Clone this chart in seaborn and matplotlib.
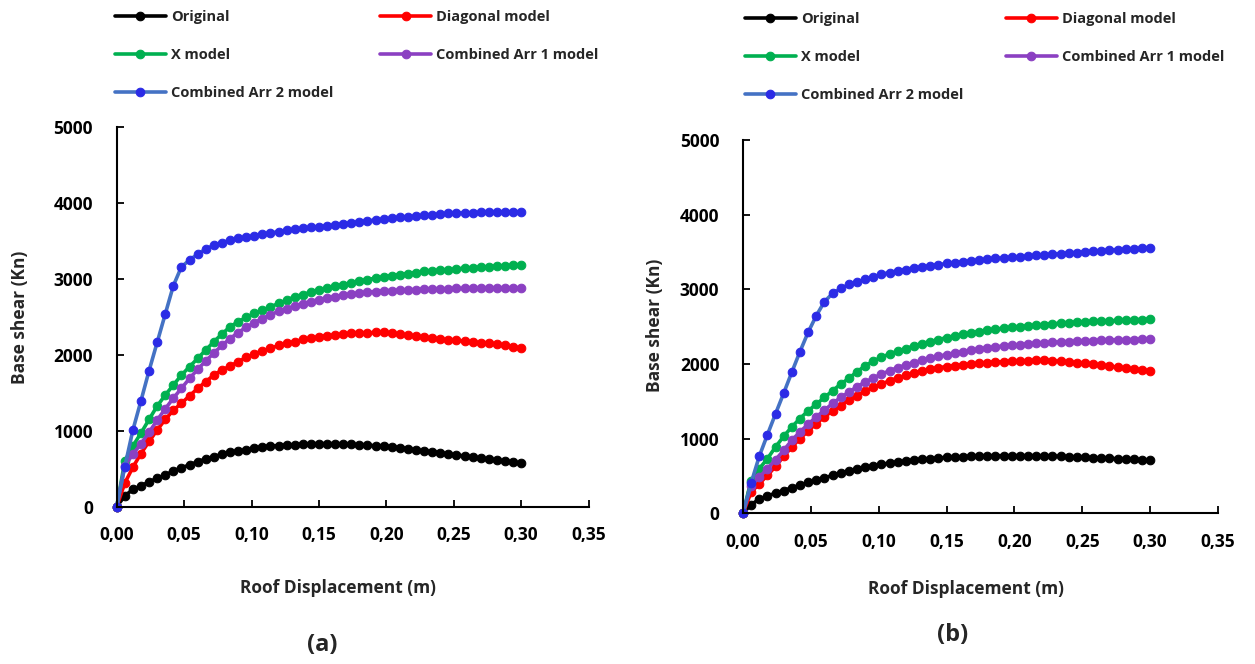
import matplotlib
matplotlib.use('Agg')
import matplotlib.pyplot as plt
from matplotlib.ticker import FuncFormatter
import seaborn as sns

# roof displacement (m), same for every curve
disp = [0.000, 0.006, 0.012, 0.018, 0.024, 0.030, 0.036, 0.042, 0.048, 0.054,
        0.060, 0.066, 0.072, 0.078, 0.084, 0.090, 0.096, 0.102, 0.108, 0.114,
        0.120, 0.126, 0.132, 0.138, 0.144, 0.150, 0.156, 0.162, 0.168, 0.174,
        0.180, 0.186, 0.192, 0.198, 0.204, 0.210, 0.216, 0.222, 0.228, 0.234,
        0.240, 0.246, 0.252, 0.258, 0.264, 0.270, 0.276, 0.282, 0.288, 0.294,
        0.300]

labels = ['Original', 'Diagonal model', 'X model',
          'Combined Arr 1 model', 'Combined Arr 2 model']

# panel (a) base shear (kN)
orig_a = [0, 141, 228, 272, 329, 373, 417, 470, 514, 549,
          593, 628, 659, 690, 716, 733, 747, 769, 791, 799,
          804, 812, 817, 826, 830, 830, 830, 830, 826, 821,
          812, 808, 804, 799, 791, 777, 764, 747, 733, 725,
          711, 694, 681, 668, 650, 637, 624, 610, 597, 584,
          571]
diag_a = [0, 310, 520, 700, 860, 1010, 1150, 1270, 1365, 1460,
          1559, 1647, 1735, 1801, 1853, 1910, 1967, 2011, 2055, 2086,
          2126, 2152, 2174, 2205, 2218, 2240, 2253, 2262, 2275, 2284,
          2288, 2292, 2297, 2297, 2288, 2275, 2257, 2244, 2231, 2218,
          2209, 2200, 2191, 2183, 2170, 2161, 2152, 2139, 2126, 2108,
          2090]
x_a = [0, 600, 800, 970, 1150, 1326, 1471, 1603, 1735, 1845,
       1954, 2064, 2174, 2275, 2372, 2437, 2495, 2547, 2591, 2635,
       2679, 2723, 2767, 2797, 2828, 2855, 2881, 2907, 2929, 2951,
       2973, 2995, 3013, 3030, 3048, 3061, 3074, 3087, 3101, 3109,
       3118, 3127, 3136, 3144, 3153, 3157, 3166, 3171, 3175, 3180,
       3184]
arr1_a = [0, 540, 690, 830, 980, 1140, 1290, 1430, 1560, 1690,
          1810, 1920, 2025, 2125, 2215, 2295, 2365, 2425, 2480, 2530,
          2575, 2612, 2645, 2677, 2705, 2730, 2752, 2771, 2789, 2804,
          2818, 2828, 2837, 2846, 2850, 2855, 2859, 2863, 2868, 2868,
          2872, 2872, 2877, 2877, 2877, 2881, 2881, 2881, 2881, 2881,
          2881]
arr2_a = [0, 527, 1010, 1397, 1793, 2166, 2540, 2913, 3163, 3251,
          3330, 3396, 3449, 3480, 3515, 3537, 3550, 3572, 3594, 3611,
          3625, 3642, 3656, 3669, 3682, 3691, 3704, 3717, 3730, 3743,
          3757, 3770, 3779, 3792, 3801, 3814, 3822, 3831, 3840, 3849,
          3858, 3866, 3871, 3875, 3875, 3880, 3880, 3884, 3884, 3884,
          3884]

# panel (b) base shear (kN)
orig_b = [0, 117, 188, 233, 269, 305, 341, 377, 413, 444,
          475, 507, 538, 565, 592, 614, 637, 655, 673, 686,
          700, 713, 722, 731, 740, 749, 753, 758, 762, 767,
          767, 771, 771, 771, 771, 771, 771, 767, 767, 762,
          758, 753, 749, 744, 740, 735, 731, 726, 722, 713,
          709]
diag_b = [0, 283, 395, 507, 628, 762, 888, 1000, 1103, 1202,
          1291, 1372, 1444, 1516, 1574, 1637, 1686, 1731, 1776, 1812,
          1848, 1883, 1910, 1933, 1951, 1964, 1978, 1987, 2000, 2009,
          2018, 2027, 2031, 2036, 2040, 2045, 2049, 2054, 2045, 2036,
          2027, 2018, 2009, 1996, 1982, 1969, 1960, 1946, 1933, 1919,
          1910]
x_b = [0, 439, 596, 731, 888, 1031, 1157, 1269, 1372, 1462,
       1552, 1641, 1731, 1807, 1897, 1973, 2040, 2090, 2135, 2170,
       2206, 2242, 2274, 2300, 2327, 2354, 2377, 2399, 2417, 2435,
       2453, 2466, 2480, 2493, 2502, 2511, 2520, 2529, 2538, 2547,
       2556, 2561, 2565, 2570, 2574, 2578, 2583, 2587, 2592, 2596,
       2601]
arr1_b = [0, 372, 484, 596, 717, 843, 978, 1090, 1193, 1291,
          1381, 1471, 1552, 1623, 1695, 1758, 1812, 1865, 1910, 1951,
          1987, 2018, 2049, 2076, 2103, 2126, 2148, 2166, 2184, 2202,
          2215, 2229, 2242, 2251, 2260, 2269, 2278, 2283, 2291, 2296,
          2300, 2305, 2309, 2314, 2318, 2323, 2323, 2327, 2327, 2332,
          2332]
arr2_b = [0, 405, 762, 1052, 1333, 1609, 1890, 2166, 2424, 2647,
          2834, 2946, 3012, 3066, 3101, 3133, 3168, 3204, 3226, 3249,
          3266, 3289, 3302, 3316, 3333, 3347, 3360, 3369, 3382, 3391,
          3405, 3414, 3422, 3431, 3436, 3445, 3454, 3458, 3472, 3480,
          3489, 3494, 3503, 3512, 3516, 3525, 3534, 3538, 3547, 3552,
          3556]

x_ticks = [0.00, 0.05, 0.10, 0.15, 0.20, 0.25, 0.30, 0.35]
y_ticks = [0, 1000, 2000, 3000, 4000, 5000]

line_colors = ['black', '#FF0000', '#00B050', '#8B40C2', '#4472C4']
marker_colors = ['black', '#FF0000', '#00B050', '#8B40C2', '#2B2BE6']

sns.set_style('ticks')
plt.rcParams['font.family'] = ['Open Sans', 'DejaVu Sans']
plt.rcParams['font.weight'] = 'bold'

fig = plt.figure(figsize=(12.55, 6.64), dpi=100)
ax_a = fig.add_axes([0.093, 0.237, 0.376, 0.571])
ax_b = fig.add_axes([0.592, 0.227, 0.3785, 0.562])


def draw(ax, series, legend_xy, colspace, xlab_xy, ylab_xy):
    for lab, vals, lc, mc in zip(labels, series, line_colors, marker_colors):
        sns.lineplot(x=disp, y=vals, ax=ax, color=lc, lw=2.6, marker='o',
                     markersize=6.2, markerfacecolor=mc, markeredgecolor=mc,
                     label=lab, clip_on=False, sort=False)
    ax.set_xlim(0, 0.35)
    ax.set_ylim(0, 5000)
    ax.set_xticks(x_ticks)
    ax.set_yticks(y_ticks)
    ax.xaxis.set_major_formatter(
        FuncFormatter(lambda v, p: f'{v:.2f}'.replace('.', ',')))
    ax.tick_params(axis='both', direction='in', length=5, width=1.3,
                   labelsize=12.5, colors='black')
    ax.tick_params(axis='y', pad=17)
    ax.tick_params(axis='x', pad=14)
    sns.despine(ax=ax)
    for s in ['left', 'bottom']:
        ax.spines[s].set_linewidth(1.5)
        ax.spines[s].set_color('black')
    ax.set_xlabel('Roof Displacement (m)', fontsize=12.5, fontweight='bold')
    ax.set_ylabel('Base shear (Kn)', fontsize=12.5, fontweight='bold')
    ax.xaxis.set_label_coords(*xlab_xy)
    ax.yaxis.set_label_coords(*ylab_xy)

    # legend laid out row by row: 2 columns
    h, l = ax.get_legend_handles_labels()
    order = [0, 2, 4, 1, 3]
    ax.legend([h[i] for i in order], [l[i] for i in order], ncol=2,
              loc='upper left', bbox_to_anchor=legend_xy,
              bbox_transform=fig.transFigure, frameon=False,
              prop={'size': 10.5, 'weight': 'bold'},
              handlelength=3.5, handletextpad=0.35,
              labelspacing=1.65, columnspacing=colspace, borderpad=0,
              borderaxespad=0)


draw(ax_a, [orig_a, diag_a, x_a, arr1_a, arr2_a],
     (0.0916, 0.985), 3.2, (0.47, -0.19), (-0.186, 0.5))
draw(ax_b, [orig_b, diag_b, x_b, arr1_b, arr2_b],
     (0.5936, 0.982), 2.9, (0.47, -0.18), (-0.166, 0.504))

fig.text(322 / 1255, 1 - 645 / 664, '(a)', fontsize=17, fontweight='bold',
         ha='center', va='center')
fig.text(953 / 1255, 1 - 635 / 664, '(b)', fontsize=17, fontweight='bold',
         ha='center', va='center')

fig.savefig('out.png', dpi=100)
